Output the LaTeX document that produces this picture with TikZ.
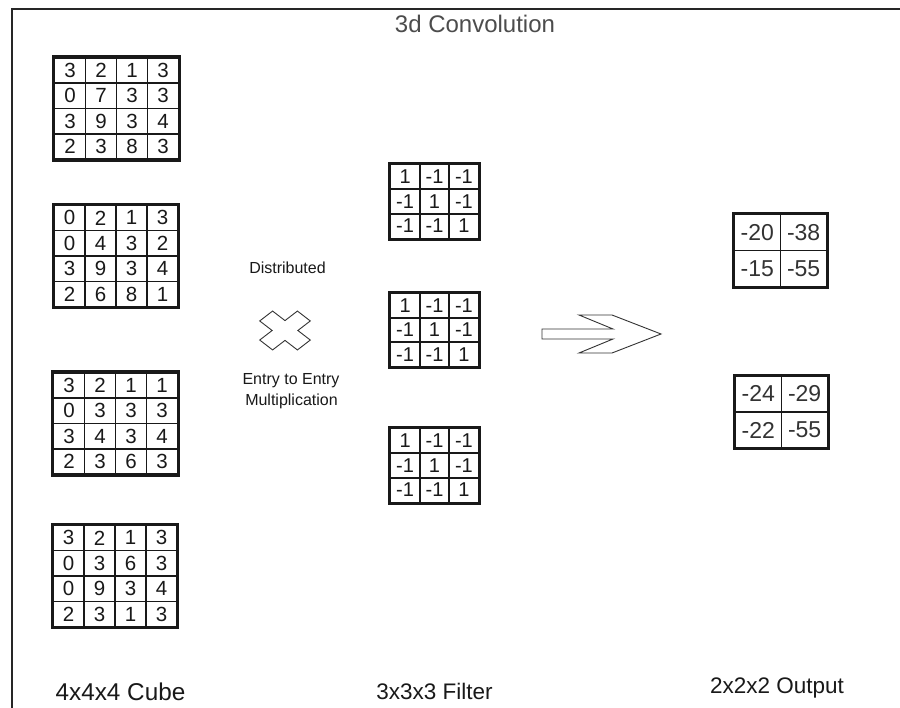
\documentclass[tikz,border=0pt]{standalone}
\usepackage{fontspec}
\setmainfont{Liberation Sans}
\usetikzlibrary{matrix}
\tikzset{
  cell/.style={draw=black!90, line width=1.7pt, inner sep=0pt, text=black!90, anchor=center},
  grid/.style={matrix of nodes, draw=black!90, line width=2.8pt, inner sep=0pt,
    column sep=-1.7pt, row sep=-1.7pt, anchor=center},
  cube/.style={grid, nodes={cell, minimum width=31pt, minimum height=25.4pt,
    font=\fontsize{20.5}{20.5}\selectfont}},
  filt/.style={grid, nodes={cell, minimum width=29.4pt, minimum height=24.6pt,
    font=\fontsize{20}{20}\selectfont}},
  outm/.style={grid, nodes={cell, minimum width=46.3pt, minimum height=36.2pt,
    text=black!80, font=\fontsize{23}{23}\selectfont}},
  shapeline/.style={draw=black!80, line width=0.9pt, line join=miter},
  lbl/.style={inner sep=0pt, text=black!90},
}
\begin{document}
\begin{tikzpicture}[x=1pt, y=-1pt]
\useasboundingbox (0,0) rectangle (900,708);
\fill[white] (0,0) rectangle (900,708);
% frame
\coordinate (fl) at (12,708);
\coordinate (fc) at (12,9);
\coordinate (fr) at (900,9);
\draw[black!85, line width=2pt] (fl) -- (fc) -- (fr);

\node[lbl, text=black!70, font=\fontsize{24}{24}\selectfont] (title) at (475,24) {3d Convolution};

% 4x4x4 cube
\matrix (m1) [cube] at (116.5,108.5) {
3 & 2 & 1 & 3 \\
0 & 7 & 3 & 3 \\
3 & 9 & 3 & 4 \\
2 & 3 & 8 & 3 \\
};
\matrix (m2) [cube] at (116,256) {
0 & 2 & 1 & 3 \\
0 & 4 & 3 & 2 \\
3 & 9 & 3 & 4 \\
2 & 6 & 8 & 1 \\
};
\matrix (m3) [cube] at (115.5,423.5) {
3 & 2 & 1 & 1 \\
0 & 3 & 3 & 3 \\
3 & 4 & 3 & 4 \\
2 & 3 & 6 & 3 \\
};
\matrix (m4) [cube] at (115,576) {
3 & 2 & 1 & 3 \\
0 & 3 & 6 & 3 \\
0 & 9 & 3 & 4 \\
2 & 3 & 1 & 3 \\
};

% filters
\matrix (f1) [filt] at (434.5,201.5) {
1 & -1 & -1 \\
-1 & 1 & -1 \\
-1 & -1 & 1 \\
};
\matrix (f2) [filt] at (434.5,330) {
1 & -1 & -1 \\
-1 & 1 & -1 \\
-1 & -1 & 1 \\
};
\matrix (f3) [filt] at (434.5,465.5) {
1 & -1 & -1 \\
-1 & 1 & -1 \\
-1 & -1 & 1 \\
};

% outputs
\matrix (o1) [outm] at (780.5,250.5) {
-20 & -38 \\
-15 & -55 \\
};
\matrix (o2) [outm] at (781.5,412) {
-24 & -29 \\
-22 & -55 \\
};

% multiplication sign
\node[lbl, font=\fontsize{16}{16}\selectfont] (dist) at (287.5,268) {Distributed};
\draw[shapeline, shift={(285,330.5)}, xscale=1.3, rotate=45]
  (20.5,7) -- (7,7) -- (7,20.5) -- (-7,20.5) -- (-7,7) -- (-20.5,7) -- (-20.5,-7)
  -- (-7,-7) -- (-7,-20.5) -- (7,-20.5) -- (7,-7) -- (20.5,-7) -- cycle;
\node[lbl, font=\fontsize{16}{16}\selectfont] (ete) at (291,381) {Entry to Entry};
\node[lbl, font=\fontsize{16}{16}\selectfont] (mult) at (291.5,401) {Multiplication};

% arrow
\draw[shapeline] (542,329) -- (613,329) -- (579,315) -- (612,315) -- (661,334)
  -- (612,353) -- (579,353) -- (613,339) -- (542,339) -- cycle;

% bottom labels
\node[lbl, font=\fontsize{24.3}{24.3}\selectfont] (lc) at (120.5,692) {4x4x4 Cube};
\node[lbl, font=\fontsize{22.5}{22.5}\selectfont] (lf) at (434.5,691) {3x3x3 Filter};
\node[lbl, font=\fontsize{22.5}{22.5}\selectfont] (lo) at (777,688) {2x2x2 Output};
\end{tikzpicture}
\end{document}
